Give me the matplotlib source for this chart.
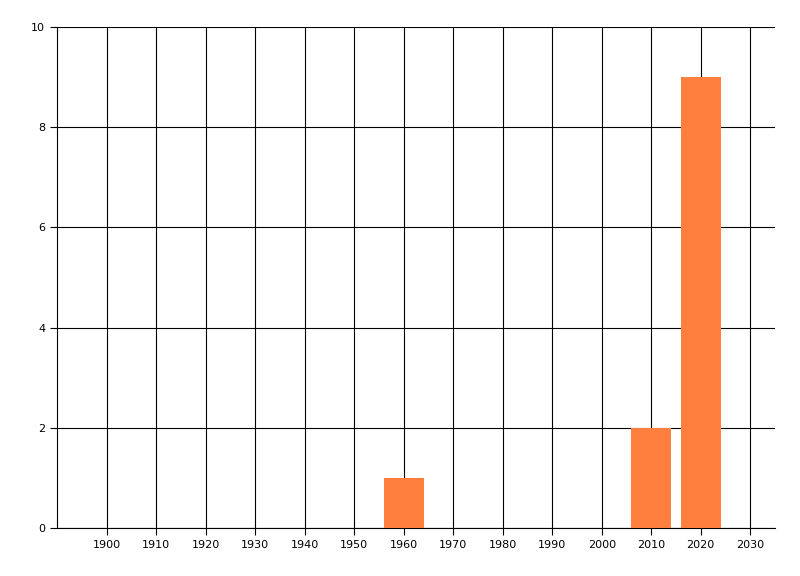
import matplotlib
matplotlib.use('Agg')
import matplotlib.pyplot as plt

years = [1960, 2010, 2020]
counts = [1, 2, 9]
xticks = list(range(1900, 2031, 10))
yticks = [0, 2, 4, 6, 8, 10]

plt.rcParams['font.family'] = ['DejaVu Sans']
fig = plt.figure(figsize=(8, 5.76), dpi=100)
ax = fig.add_axes([57/800, 1-528/576, (775-57)/800, (528-27)/576])

ax.set_axisbelow(True)
ax.grid(True, color='black', linewidth=0.8)
ax.bar(years, counts, width=8.1, color='#ff7f3f', zorder=3)

ax.set_xlim(1890, 2035)
ax.set_ylim(0, 10)
ax.set_xticks(xticks)
ax.set_yticks(yticks)
ax.tick_params(labelsize=8, length=5, width=0.8, colors='black')
for s in ['top', 'right']:
    ax.spines[s].set_visible(False)
for s in ['left', 'bottom']:
    ax.spines[s].set_linewidth(0.8)

fig.savefig('out.png', dpi=100)
